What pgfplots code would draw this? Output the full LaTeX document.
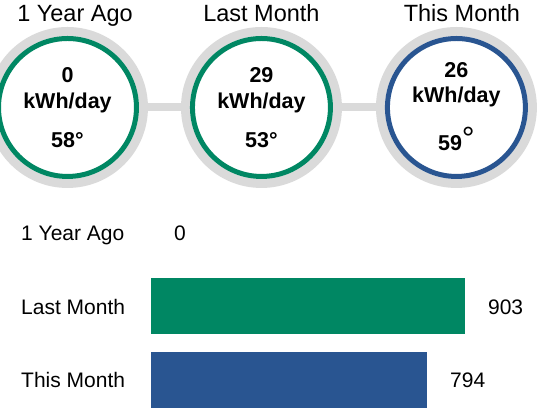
\documentclass[border=0pt]{standalone}
\usepackage{pgfplots}
\pgfplotsset{compat=1.18}
\usepackage{fontspec}
\setmainfont{Liberation Sans}
\definecolor{ringgray}{RGB}{218,218,218}
\definecolor{egreen}{RGB}{0,135,99}
\definecolor{eblue}{RGB}{41,85,145}
\begin{document}
\begin{tikzpicture}
% ---------------- top: circles ----------------
\begin{axis}[
  at={(0pt,0pt)}, anchor=south west,
  width=543pt, height=408pt, scale only axis,
  xmin=0, xmax=543, ymin=0, ymax=408,
  axis line style={draw=none}, ticks=none,
  clip marker paths=true,
]
% connector
\addplot[ringgray, line width=8pt, forget plot] coordinates {(67.5,301) (456.5,301)};
% gray rings
\addplot[only marks, mark=*, mark size=76pt, mark options={draw=ringgray, fill=white, line width=9pt}]
  coordinates {(67.5,300.5) (261.5,300.5) (456.5,300.5)};
% coloured rings
\addplot[only marks, mark=o, mark size=69pt, mark options={draw=egreen, line width=5pt}]
  coordinates {(67.5,300.5) (261.5,300.5)};
\addplot[only marks, mark=o, mark size=69pt, mark options={draw=eblue, line width=5pt}]
  coordinates {(456.5,300.5)};
% titles
\addplot[draw=none, point meta=explicit symbolic, nodes near coords,
  nodes near coords style={anchor=base, inner sep=0pt, font=\fontsize{23.5}{28}\selectfont}]
  coordinates {(75,386) [1 Year Ago] (261.5,386) [Last Month] (462,386) [This Month]};
% kWh per day values
\addplot[draw=none, point meta=explicit symbolic, nodes near coords,
  nodes near coords style={anchor=base, inner sep=0pt, font=\bfseries\fontsize{21.5}{25}\selectfont}]
  coordinates {(67.5,325) [0] (261.5,325) [29] (456.5,330) [26]};
\addplot[draw=none, point meta=explicit symbolic, nodes near coords,
  nodes near coords style={anchor=base, inner sep=0pt, font=\bfseries\fontsize{21.5}{25}\selectfont}]
  coordinates {(67.5,299) [kWh/day] (261.5,299) [kWh/day] (456.5,305) [kWh/day]};
% temperatures
\addplot[draw=none, point meta=explicit symbolic, nodes near coords={\pgfplotspointmeta°},
  nodes near coords style={anchor=base, inner sep=0pt, font=\bfseries\fontsize{21.5}{25}\selectfont}]
  coordinates {(67.5,260) [58] (261.5,260) [53]};
\addplot[draw=none, point meta=explicit symbolic,
  nodes near coords={\pgfplotspointmeta\raisebox{1pt}{\mdseries\fontsize{32}{32}\selectfont °}},
  nodes near coords style={anchor=base, inner sep=0pt, font=\bfseries\fontsize{21.5}{25}\selectfont}]
  coordinates {(456.5,257) [59]};
\end{axis}
% ---------------- bottom: bars ----------------
\begin{axis}[
  at={(151pt,0pt)}, anchor=south west,
  width=392pt, height=211.8pt, scale only axis,
  xmin=0, xmax=1127.3, ymin=-0.5, ymax=2.3856, y dir=reverse,
  axis line style={draw=none}, xtick=\empty, ytick={0,1,2},
  yticklabels={1 Year Ago, Last Month, This Month},
  major tick length=0pt,
  yticklabel style={anchor=base west, inner sep=0pt, xshift=-130pt, yshift=-8pt,
    font=\fontsize{21}{25}\selectfont},
  /pgf/number format/assume math mode=true,
]
\addplot[xbar, bar width=56pt, bar shift=0pt, draw=none, fill=none,
  nodes near coords, nodes near coords style={anchor=base west, inner sep=0pt, xshift=23pt, yshift=-8pt,
    font=\fontsize{21}{25}\selectfont}]
  coordinates {(0,0)};
\addplot[xbar, bar width=56pt, bar shift=0pt, draw=none, fill=egreen,
  nodes near coords, nodes near coords style={anchor=base west, inner sep=0pt, xshift=23pt, yshift=-8pt,
    font=\fontsize{21}{25}\selectfont}]
  coordinates {(903,1)};
\addplot[xbar, bar width=56pt, bar shift=0pt, draw=none, fill=eblue,
  nodes near coords, nodes near coords style={anchor=base west, inner sep=0pt, xshift=23pt, yshift=-8pt,
    font=\fontsize{21}{25}\selectfont}]
  coordinates {(794,2)};
\end{axis}
\end{tikzpicture}
\end{document}
